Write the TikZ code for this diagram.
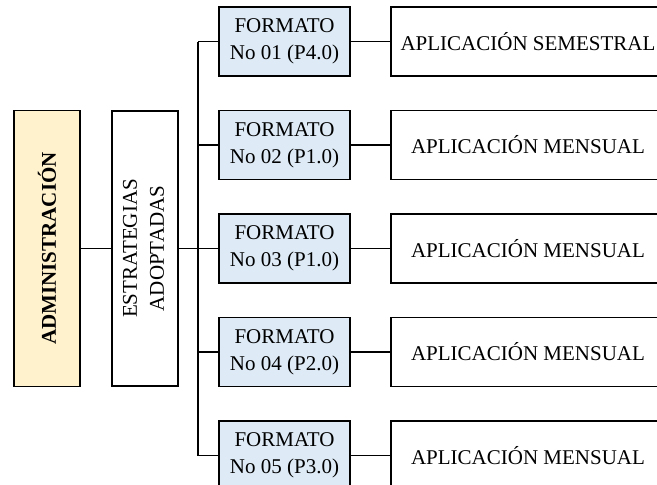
\documentclass[tikz,border=0pt]{standalone}
\usepackage{fontspec}
\setmainfont{Liberation Serif}
\definecolor{admfill}{HTML}{FFF2CC}
\definecolor{fmtfill}{HTML}{DEEBF7}
\begin{document}
\begin{tikzpicture}[x=1pt,y=-1pt,
  box/.style={draw=black, line width=1.8pt, inner sep=0pt, align=center,
    font=\fontsize{21}{27}\selectfont},
  fmtbox/.style={box, fill=fmtfill, minimum width=131, minimum height=69},
  appbox/.style={box, fill=white, minimum width=274, minimum height=69},
  conn/.style={draw=black, line width=1.8pt}]
\useasboundingbox (0,0) rectangle (657,485);
\clip (0,0) rectangle (657,485);
\node[box, fill=admfill, minimum width=66, minimum height=276] (adm) at (47,248.5)
  {\rotatebox{90}{\bfseries ADMINISTRACIÓN}};
\node[box, fill=white, minimum width=66, minimum height=275] (est) at (145,248.5)
  {\rotatebox{90}{\begin{tabular}{@{}c@{}}ESTRATEGIAS\\ADOPTADAS\end{tabular}}};
\foreach \i/\y/\p/\a in {1/41.5/P4.0/APLICACIÓN SEMESTRAL,
                        2/145/P1.0/APLICACIÓN MENSUAL,
                        3/248.5/P1.0/APLICACIÓN MENSUAL,
                        4/352/P2.0/APLICACIÓN MENSUAL,
                        5/455.5/P3.0/APLICACIÓN MENSUAL}{
  \node[fmtbox] (f\i) at (284.5,\y) {FORMATO\\No 0\i\ (\p)};
  \node[appbox] (a\i) at (528,\y) {\a};
  \draw[conn] (f\i.east) -- (a\i.west);
  \draw[conn] (f\i.west) -- ++(-20,0);
}
\draw[conn] (f1.west) ++(-20,0) coordinate (top) -- (top |- f5.west);
\draw[conn] (adm.east) -- (est.west);
\draw[conn] (est.east) -- (f3.west);
\end{tikzpicture}
\end{document}
